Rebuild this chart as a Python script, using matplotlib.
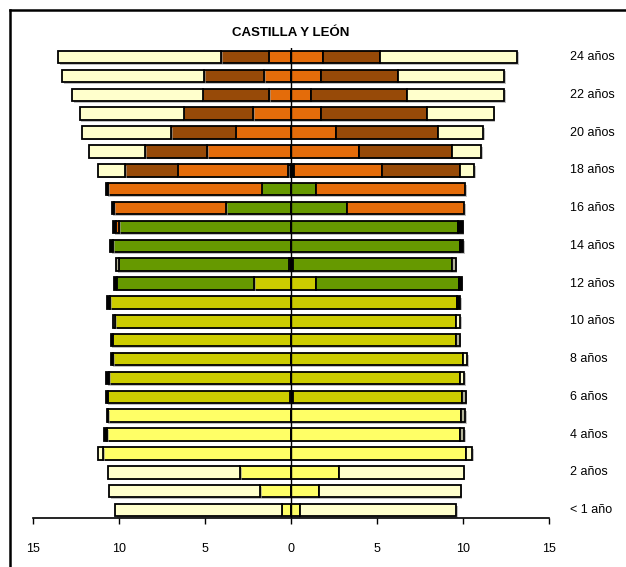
import matplotlib
matplotlib.use("Agg")
import matplotlib.pyplot as plt
import matplotlib.patheffects as pe
from matplotlib.lines import Line2D

plt.rcParams['font.family'] = ['Liberation Sans', 'DejaVu Sans']

# edades 0..24 (fila 0 = "< 1 año")
edades = list(range(25))

# izquierda / derecha, en el orden del centro hacia fuera
centro_izq   = [0, 0, 0, 0, 0, 0, 0, 0, 0, 0, 0, 0, 0, 0.13, 0, 0, 0, 0, 0.15, 0, 0, 0, 0, 0, 0]
centro_der   = [0, 0, 0, 0, 0, 0, 0, 0, 0, 0, 0, 0, 0, 0.13, 0, 0, 0, 0, 0.20, 0, 0, 0, 0, 0, 0]
infantil_izq = [0.54, 1.80, 2.97, 10.91, 10.68, 10.62, 0.08, 0, 0, 0, 0, 0, 0, 0, 0, 0, 0, 0, 0, 0, 0, 0, 0, 0, 0]
infantil_der = [0.52, 1.65, 2.81, 10.17, 9.84, 9.86, 0.10, 0, 0, 0, 0, 0, 0, 0, 0, 0, 0, 0, 0, 0, 0, 0, 0, 0, 0]
primaria_izq = [0, 0, 0, 0, 0, 0, 10.58, 10.58, 10.33, 10.37, 10.22, 10.52, 2.13, 0, 0, 0, 0, 0, 0, 0, 0, 0, 0, 0, 0]
primaria_der = [0, 0, 0, 0, 0, 0, 9.82, 9.84, 10.00, 9.61, 9.57, 9.67, 1.45, 0, 0, 0, 0, 0, 0, 0, 0, 0, 0, 0, 0]
eso_izq      = [0, 0, 0, 0, 0, 0, 0, 0, 0, 0, 0, 0, 8.00, 9.89, 10.35, 9.98, 3.78, 1.70, 0, 0, 0, 0, 0, 0, 0]
eso_der      = [0, 0, 0, 0, 0, 0, 0, 0, 0, 0, 0, 0, 8.34, 9.21, 9.84, 9.73, 3.27, 1.43, 0, 0, 0, 0, 0, 0, 0]
bach_izq     = [0, 0, 0, 0, 0, 0, 0, 0, 0, 0, 0, 0, 0, 0, 0, 0.21, 6.49, 8.92, 6.44, 4.86, 3.22, 2.19, 1.26, 1.55, 1.30]
bach_der     = [0, 0, 0, 0, 0, 0, 0, 0, 0, 0, 0, 0, 0, 0, 0, 0, 6.81, 8.70, 5.07, 3.93, 2.60, 1.76, 1.14, 1.74, 1.84]
univ_izq     = [0, 0, 0, 0, 0, 0, 0, 0, 0, 0, 0, 0, 0, 0, 0, 0, 0, 0, 3.04, 3.63, 3.74, 4.05, 3.88, 3.51, 2.77]
univ_der     = [0, 0, 0, 0, 0, 0, 0, 0, 0, 0, 0, 0, 0, 0, 0, 0, 0, 0, 4.57, 5.43, 5.95, 6.13, 5.60, 4.50, 3.31]
especial_izq = [0, 0, 0, 0, 0.21, 0.10, 0.10, 0.16, 0.12, 0.11, 0, 0.18, 0.14, 0, 0.15, 0.14, 0.15, 0.14, 0, 0, 0, 0, 0, 0, 0]
especial_der = [0, 0, 0, 0, 0, 0, 0, 0, 0, 0, 0, 0.16, 0.13, 0, 0.18, 0.25, 0, 0, 0, 0, 0, 0, 0, 0, 0]
otros_izq    = [0, 0, 0, 0, 0, 0, 0, 0, 0, 0, 0.10, 0, 0, 0.15, 0, 0, 0, 0, 0, 0, 0, 0, 0, 0, 0]
otros_der    = [0, 0, 0, 0, 0.24, 0.26, 0.23, 0, 0, 0.20, 0, 0, 0, 0.23, 0, 0, 0, 0, 0, 0, 0, 0, 0, 0, 0]
noesc_izq    = [9.67, 8.76, 7.65, 0.29, 0, 0, 0, 0, 0, 0, 0, 0, 0, 0, 0, 0, 0, 0, 1.61, 3.23, 5.17, 6.05, 7.59, 8.23, 9.48]
noesc_der    = [9.07, 8.21, 7.23, 0.37, 0, 0, 0, 0.24, 0.25, 0, 0.26, 0, 0, 0, 0, 0, 0, 0, 0.80, 1.69, 2.61, 3.89, 5.66, 6.16, 8.01]

etiquetas = {0: "< 1 año"}
for e in range(2, 25, 2):
    etiquetas[e] = f"{e} años"

series = [
    (centro_izq, centro_der, "#000000"),
    (infantil_izq, infantil_der, "#FFFF66"),
    (primaria_izq, primaria_der, "#CCCC00"),
    (eso_izq, eso_der, "#669900"),
    (bach_izq, bach_der, "#E46C0A"),
    (univ_izq, univ_der, "#974A08"),
    (especial_izq, especial_der, "#000000"),
    (otros_izq, otros_der, "#B4B49A"),
    (noesc_izq, noesc_der, "#FFFFCC"),
]

fig = plt.figure(figsize=(6.26, 5.67), dpi=100)
ax = fig.add_axes([33 / 626, 1 - 518 / 567, 516 / 626, 470 / 567])

sombra = [pe.SimplePatchShadow(offset=(1.2, -1.2), shadow_rgbFace="#999999", alpha=0.6), pe.Normal()]

acum_izq = [0.0] * 25
acum_der = [0.0] * 25
for izq, der, color in series:
    for e in edades:
        if izq[e] > 0:
            b = ax.barh(e, -izq[e], left=-acum_izq[e], height=0.66, color=color,
                        edgecolor="black", linewidth=1.3)
            b[0].set_path_effects(sombra)
            acum_izq[e] += izq[e]
        if der[e] > 0:
            b = ax.barh(e, der[e], left=acum_der[e], height=0.66, color=color,
                        edgecolor="black", linewidth=1.3)
            b[0].set_path_effects(sombra)
            acum_der[e] += der[e]

ax.axvline(0, color="black", linewidth=1.0, zorder=5)

ax.set_xlim(-15, 15)
ax.set_ylim(-0.42, 24.48)
ax.set_xticks([-15, -10, -5, 0, 5, 10, 15])
ax.set_xticklabels(["15", "10", "5", "0", "5", "10", "15"], fontsize=9)
ax.tick_params(axis="x", direction="out", length=4, pad=14, width=1)
ax.set_yticks([])
for s in ["left", "right", "top"]:
    ax.spines[s].set_visible(False)
ax.spines["bottom"].set_linewidth(1.2)

for e, txt in etiquetas.items():
    ax.text(16.2, e, txt, ha="left", va="center", fontsize=9, clip_on=False)

fig.text(291 / 626, 1 - 33 / 567, "CASTILLA Y LEÓN", ha="center", va="center",
         fontsize=9.5, fontweight="bold")

# marco exterior
fig.add_artist(Line2D([10 / 626, 10 / 626], [0, 1 - 10 / 567], transform=fig.transFigure,
                      color="black", linewidth=1.8))
fig.add_artist(Line2D([10 / 626, 1], [1 - 10 / 567, 1 - 10 / 567], transform=fig.transFigure,
                      color="black", linewidth=1.8))

fig.savefig("out.png", dpi=100)
